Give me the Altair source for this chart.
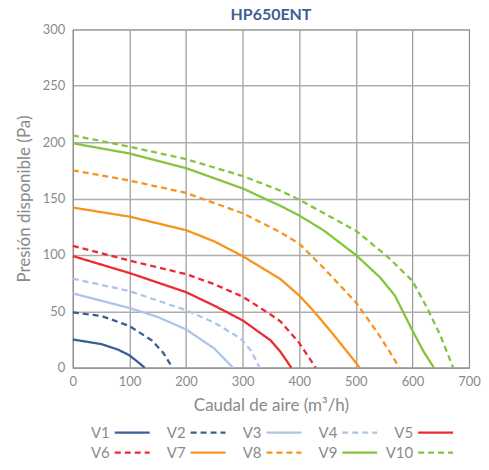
import altair as alt
import pandas as pd

series = ["V1", "V2", "V3", "V4", "V5", "V6", "V7", "V8", "V9", "V10"]
colors = ["#3a5f94", "#3a5f94", "#aec4e8", "#aec4e8", "#ec2b30", "#ec2b30",
          "#f7941d", "#f7941d", "#86c440", "#86c440"]
dashes = [[1, 0], [6, 4]] * 5

flow = {
    "V1": [0, 50, 80, 100, 115, 127],
    "V2": [0, 50, 100, 140, 160, 176],
    "V3": [0, 100, 150, 200, 250, 283],
    "V4": [0, 100, 200, 250, 296, 315, 330],
    "V5": [0, 100, 200, 250, 300, 350, 367, 386],
    "V6": [0, 100, 200, 250, 300, 350, 367, 400, 429],
    "V7": [0, 100, 200, 250, 300, 367, 400, 426, 456, 485, 507],
    "V8": [0, 100, 200, 300, 367, 400, 444, 500, 537, 560, 577],
    "V9": [0, 100, 200, 300, 367, 400, 444, 500, 543, 569, 600, 620, 638],
    "V10": [0, 100, 200, 300, 367, 400, 500, 555, 600, 626, 649, 672],
}
pressure = {
    "V1": [25, 21, 16, 11, 5, 0],
    "V2": [49, 46, 37, 24, 13, 0],
    "V3": [66, 53, 45, 34, 17, 0],
    "V4": [79, 68, 51, 40, 26, 15, 0],
    "V5": [99, 84, 67, 55, 42, 24, 14, 0],
    "V6": [108, 95, 83, 74, 63, 47, 41, 22, 0],
    "V7": [142, 134, 122, 112, 99, 78.5, 64, 50, 32, 14, 0],
    "V8": [175, 166, 155, 137, 120, 110, 88, 58, 32, 14, 0],
    "V9": [199, 190, 177, 159, 143.5, 135, 121.5, 100, 80, 64, 33, 14, 0],
    "V10": [206, 196, 185, 170, 157, 149, 121.5, 99, 77, 53, 29, 0],
}

rows = []
for s in series:
    for i, (q, p) in enumerate(zip(flow[s], pressure[s])):
        rows.append({"serie": s, "caudal": q, "presion": p, "orden": i})
df = pd.DataFrame(rows)

leg = pd.DataFrame({
    "serie": series,
    "col": [i % 5 for i in range(len(series))],
    "row": [i // 5 for i in range(len(series))],
})

FONT = "Lato"
GRAY = "#8a8a8a"
FRAME = "#8f8f8f"

color_scale = alt.Scale(domain=series, range=colors)
dash_scale = alt.Scale(domain=series, range=dashes)

main = alt.Chart(df).mark_line(strokeWidth=2.3, interpolate="linear").encode(
    x=alt.X("caudal:Q", title="Caudal de aire (m³/h)",
            scale=alt.Scale(domain=[0, 700], nice=False),
            axis=alt.Axis(values=[0, 100, 200, 300, 400, 500, 600, 700],
                          gridColor=FRAME, gridWidth=1.1, labelFlush=False)),
    y=alt.Y("presion:Q", title="Presión disponible (Pa)",
            scale=alt.Scale(domain=[0, 300], nice=False),
            axis=alt.Axis(values=[0, 50, 100, 150, 200, 250, 300],
                          gridColor="#adadad", gridWidth=1.5, labelFlush=False)),
    color=alt.Color("serie:N", scale=color_scale, legend=None),
    strokeDash=alt.StrokeDash("serie:N", scale=dash_scale, legend=None),
    detail="serie:N",
    order="orden:Q",
).properties(
    width=397, height=339,
    view=alt.ViewBackground(stroke=FRAME, strokeWidth=1.1),
    title=alt.TitleParams("HP650ENT", fontSize=16, fontWeight="bold",
                          color="#3d5f94", font=FONT, anchor="middle", offset=0),
)

base_leg = alt.Chart(leg).encode(
    x=alt.X("col:Q", axis=None, scale=alt.Scale(domain=[0, 5], nice=False, zero=False)),
    y=alt.Y("row:Q", axis=None,
            scale=alt.Scale(domain=[-0.4, 1.4], nice=False, zero=False, reverse=True)),
)
leg_text = base_leg.mark_text(align="right", baseline="middle", dx=37,
                              fontSize=15, font=FONT, color=GRAY).encode(
    text="serie:N")
leg_line = base_leg.mark_rule(strokeWidth=2.2, xOffset=42, x2Offset=77).encode(
    x2="col:Q",
    color=alt.Color("serie:N", scale=color_scale, legend=None),
    strokeDash=alt.StrokeDash("serie:N", scale=dash_scale, legend=None),
)
legend = alt.layer(leg_text, leg_line).properties(
    width=380, height=36,
    view=alt.ViewBackground(strokeWidth=0),
)

chart = alt.vconcat(main, legend, spacing=10).properties(
    padding={"left": 6, "right": 0, "top": -2, "bottom": 0},
).configure_view(
    strokeWidth=0
).configure_axis(
    labelFont=FONT, titleFont=FONT, labelColor=GRAY, titleColor=GRAY,
    labelFontSize=13, titleFontSize=17, titleFontWeight="normal",
    domainColor=FRAME, tickSize=0, labelPadding=8,
    titlePadding=9,
)

chart.save("out.html", embed_options={"renderer": "svg", "actions": False})
